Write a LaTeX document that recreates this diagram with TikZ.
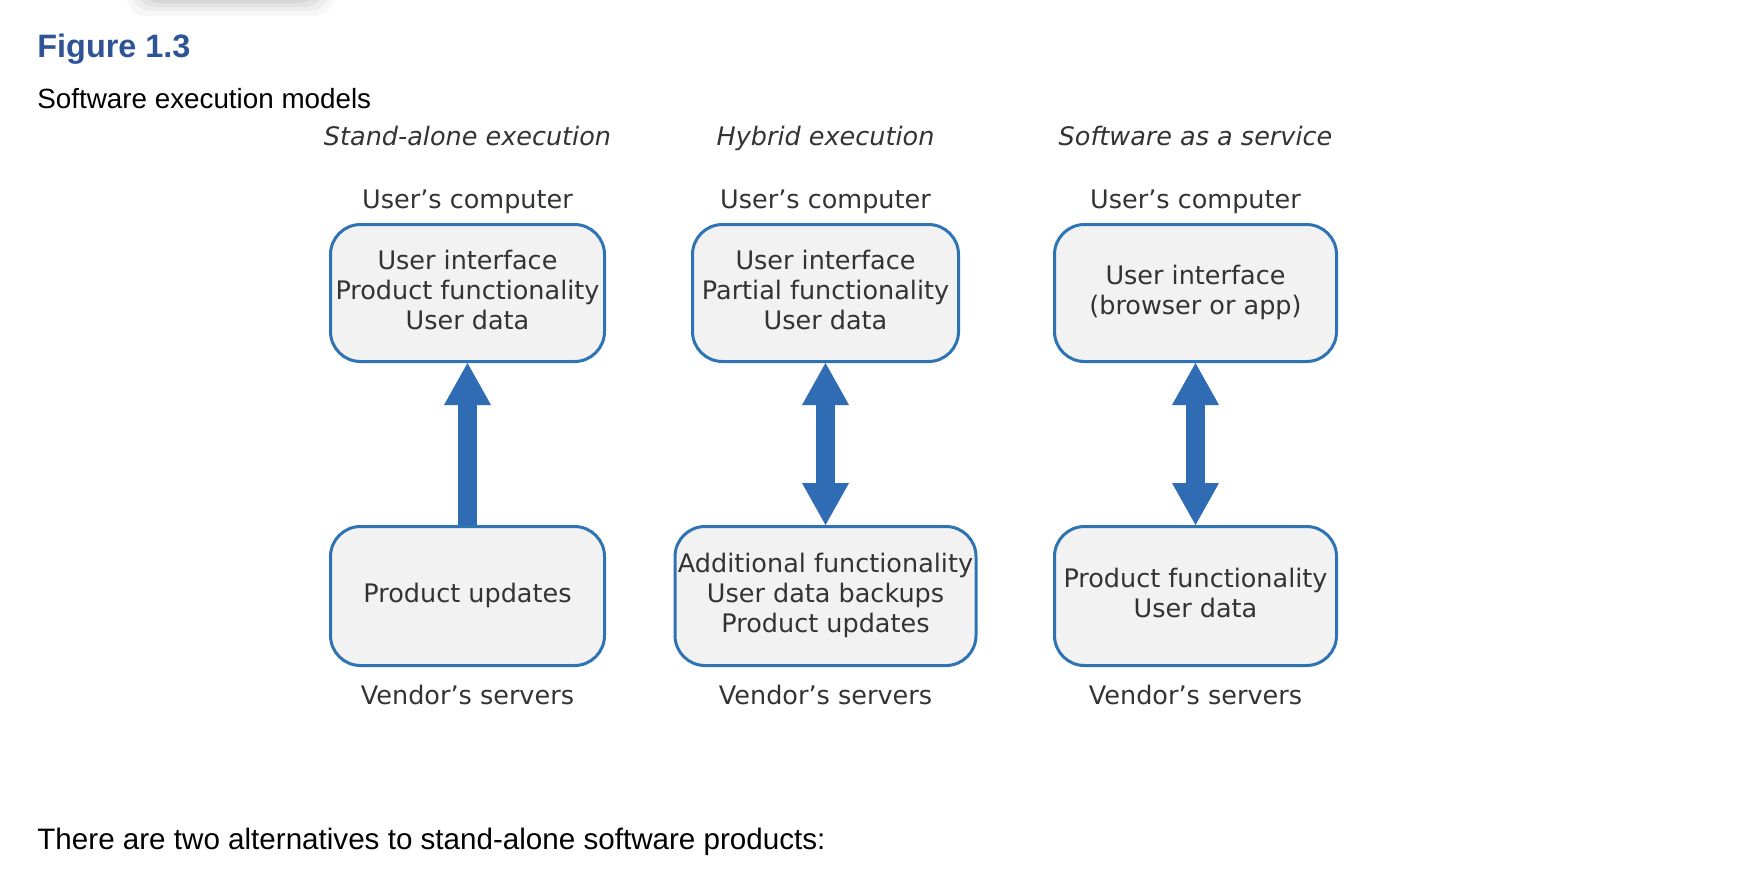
\documentclass[tikz,border=0pt]{standalone}
\usepackage{fontspec}
\setmainfont{DejaVu Sans}
\newfontfamily\helv{Liberation Sans}
\usetikzlibrary{arrows.meta}
\definecolor{boxblue}{HTML}{2E74B5}
\definecolor{arrowblue}{HTML}{2F6CB3}
\definecolor{boxfill}{HTML}{F2F2F2}
\definecolor{txt}{HTML}{333333}
\definecolor{figblue}{HTML}{2E5496}
\newcommand{\lstr}{\rule[-0.24em]{0pt}{1em}}
\begin{document}
\begin{tikzpicture}[x=0.5pt,y=-0.5pt,
  diag/.style={font=\fontsize{12.75}{15}\selectfont, text=txt, inner sep=0pt},
  title/.style={diag, font=\fontsize{12.75}{15}\selectfont\itshape, anchor=base},
  place/.style={diag, anchor=base},
  box/.style={diag, draw=boxblue, fill=boxfill, line width=1.5pt, rounded corners=15pt, align=center},
  topbox/.style={box, minimum height=68.5pt},
  botbox/.style={box, minimum height=69.5pt},
  page/.style={inner sep=0pt, anchor=base west, font=\helv\fontsize{13.9}{17}\selectfont, text=black},
  conn/.style={draw=arrowblue, line width=9.5pt},
  tipA/.tip={Triangle[length=21pt, width=23.5pt, line width=0pt]}
]
\useasboundingbox (0,0) rectangle (1760,880);
\fill[white] (0,0) rectangle (1760,880);
% faint shadow at top edge
\fill[black, opacity=.03, rounded corners=10pt] (126,-30) rectangle (334,16);
\fill[black, opacity=.04, rounded corners=10pt] (131,-30) rectangle (329,11);
\fill[black, opacity=.045, rounded corners=10pt] (136,-30) rectangle (324,7);
\fill[black, opacity=.05, rounded corners=10pt] (141,-30) rectangle (319,3);

% page text
\node[page, font=\helv\bfseries\fontsize{16.2}{19}\selectfont, text=figblue] (fig) at (37,57) {Figure 1.3};
\node[page] (cap) at (37,108) {Software execution models};
\node[page, font=\helv\fontsize{14.8}{18}\selectfont] (foot) at (37,849) {There are two alternatives to stand-alone software products:};

% column titles
\node[title] (t1) at (467.5,145) {Stand-alone execution};
\node[title] (t2) at (825.5,145) {Hybrid execution};
\node[title] (t3) at (1195.5,145) {Software as a service};

\node[place] (uc1) at (467.5,208) {User’s computer};
\node[place] (uc2) at (825.5,208) {User’s computer};
\node[place] (uc3) at (1195.5,208) {User’s computer};

\node[place] (vs1) at (467.5,704) {Vendor’s servers};
\node[place] (vs2) at (825.5,704) {Vendor’s servers};
\node[place] (vs3) at (1195.5,704) {Vendor’s servers};

% boxes
\node[topbox, minimum width=137pt] (u1) at (467.5,293)
  {\lstr User interface\\\lstr Product functionality\\\lstr User data};
\node[topbox, minimum width=133pt] (u2) at (825.5,293)
  {\lstr User interface\\\lstr Partial functionality\\\lstr User data};
\node[topbox, minimum width=141pt] (u3) at (1195.5,293)
  {\lstr User interface\\\lstr (browser or app)};

\node[botbox, minimum width=137pt] (v1) at (467.5,596)
  {\lstr Product updates};
\node[botbox, minimum width=150.5pt] (v2) at (825.5,596)
  {\lstr Additional functionality\\\lstr User data backups\\\lstr Product updates};
\node[botbox, minimum width=141pt] (v3) at (1195.5,596)
  {\lstr Product functionality\\\lstr User data};

% connectors
\draw[conn, -{tipA}] (v1.north) -- (u1.south);
\draw[conn, {tipA}-{tipA}] (v2.north) -- (u2.south);
\draw[conn, {tipA}-{tipA}] (v3.north) -- (u3.south);
\end{tikzpicture}
\end{document}
